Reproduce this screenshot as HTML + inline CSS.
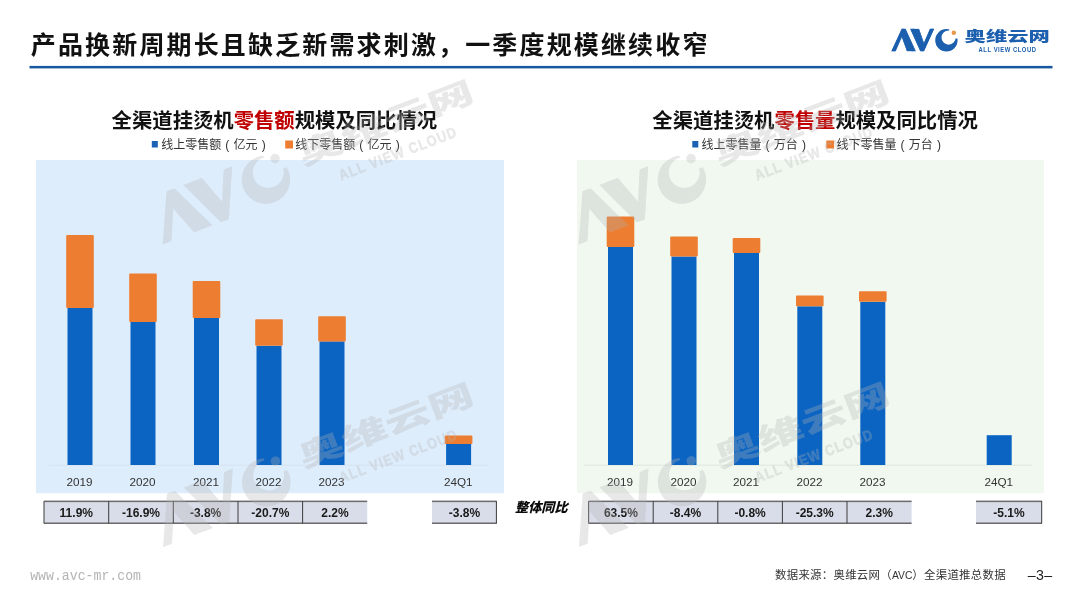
<!DOCTYPE html>
<html lang="zh-CN"><head><meta charset="utf-8"><title>全渠道挂烫机零售规模及同比情况</title>
<style>
html,body{margin:0;padding:0;background:#fff}
body{width:1080px;height:608px;overflow:hidden;position:relative;font-family:"Liberation Sans","Noto Sans CJK SC",sans-serif}
svg{position:absolute;left:0;top:0;display:block;filter:blur(0.4px)}
text{white-space:pre}
.t{font-family:"Liberation Sans","Noto Sans CJK SC",sans-serif}
.ttl{font-size:25px;font-weight:700;fill:#111;letter-spacing:2.15px}
.ct{font-size:20.35px;font-weight:700;fill:#111}
.lg{font-size:12px;fill:#333}
.yr{font-size:11.7px;fill:#333}
.pc{font-size:12px;font-weight:700;fill:#1a1a1a}
</style></head><body>
<svg width="1080" height="608" viewBox="0 0 1080 608">
<rect width="1080" height="608" fill="#fff"/>

<text class="t ttl" x="30.8" y="54">产品换新周期长且缺乏新需求刺激，一季度规模继续收窄</text>
<rect x="29.5" y="65.9" width="1023" height="2.5" fill="#17579f"/>
<g>
<clipPath id="cah"><path d="M891.4 51.7L903.7 26L916 51.7Z"/></clipPath>
<clipPath id="cvh"><path d="M910 28.6L934.2 28.6L922 54Z"/></clipPath>
<clipPath id="cch"><path d="M930 25H949.2V38.4H960V55H930Z"/></clipPath>
<text transform="translate(891.8 50.95) scale(1.135 1)" font-family="'Liberation Sans',sans-serif" font-size="31.3" fill="#1b5fae" stroke="#1b5fae" stroke-width="0.7">Λ</text>
<g clip-path="url(#cah)"><text transform="translate(888.9 50.95) scale(1.135 1)" font-weight="700" font-family="'Liberation Sans',sans-serif" font-size="31.3" fill="#1b5fae" stroke="#1b5fae" stroke-width="0.7">Λ</text></g>
<text transform="translate(910.4 50.95) scale(1.115 1)" font-family="'Liberation Sans',sans-serif" font-size="31.3" fill="#1b5fae" stroke="#1b5fae" stroke-width="0.7">V</text>
<g clip-path="url(#cvh)"><text transform="translate(913.3 50.95) scale(1.115 1)" font-weight="700" font-family="'Liberation Sans',sans-serif" font-size="31.3" fill="#1b5fae" stroke="#1b5fae" stroke-width="0.7">V</text></g>
<path fill="#1b5fae" fill-rule="evenodd" d="M946.4 29.1a11.2 11.2 0 1 0 0 22.4a11.2 11.2 0 1 0 0-22.4Z M948.6 30.5a7.1 7.1 0 1 1 0 14.2a7.1 7.1 0 1 1 0-14.2Z" clip-path="url(#cch)"/>
<circle cx="953.8" cy="32.7" r="2.2" fill="#e8964a"/>
<text transform="translate(964.6 40.5) scale(1.545 1)" font-family='"Liberation Sans","Noto Sans CJK SC",sans-serif' font-weight="900" font-size="13.8" fill="#1b5fae">奥维云网</text>
<text transform="translate(978.6 51.5) scale(0.853 1)" font-family="'Liberation Sans',sans-serif" font-weight="700" font-size="6.9" letter-spacing="0.62" fill="#1b5fae" stroke="#1b5fae" stroke-width="0">ALL VIEW CLOUD</text>
</g>
<rect x="36" y="160" width="468" height="333.2" fill="#deedfc"/>
<rect x="577" y="160" width="467" height="333.2" fill="#f0f8ef"/>
<text class="t ct" x="111.6" y="128.3">全渠道挂烫机<tspan fill="#c00000">零售额</tspan>规模及同比情况</text>
<rect x="151.8" y="141" width="6" height="6.5" fill="#1b62b5"/>
<text class="t lg" x="161.3" y="148.6">线上零售额<tspan dx="4">(</tspan><tspan dx="4.2">亿元</tspan><tspan dx="4.2">)</tspan></text>
<rect x="285.2" y="140.5" width="7.8" height="8" fill="#ed7d31"/>
<text class="t lg" x="295.2" y="148.6">线下零售额<tspan dx="4">(</tspan><tspan dx="4.2">亿元</tspan><tspan dx="4.2">)</tspan></text>
<rect x="48.8" y="464.7" width="439.5" height="1" fill="#d6e1ee"/>
<rect x="67.5" y="308.0" width="25" height="157.0" fill="#0c64c2"/>
<rect x="66.2" y="235.0" width="27.6" height="73.0" rx="1" fill="#ed7d31"/>
<rect x="130.5" y="322.0" width="25" height="143.0" fill="#0c64c2"/>
<rect x="129.2" y="273.5" width="27.6" height="48.5" rx="1" fill="#ed7d31"/>
<rect x="194.0" y="318.0" width="25" height="147.0" fill="#0c64c2"/>
<rect x="192.7" y="281.0" width="27.6" height="37.0" rx="1" fill="#ed7d31"/>
<rect x="256.5" y="345.8" width="25" height="119.2" fill="#0c64c2"/>
<rect x="255.2" y="319.3" width="27.6" height="26.5" rx="1" fill="#ed7d31"/>
<rect x="319.5" y="341.4" width="25" height="123.6" fill="#0c64c2"/>
<rect x="318.2" y="316.3" width="27.6" height="25.1" rx="1" fill="#ed7d31"/>
<rect x="446.1" y="444.0" width="25" height="21.0" fill="#0c64c2"/>
<rect x="444.8" y="435.5" width="27.6" height="8.5" rx="1" fill="#ed7d31"/>
<text class="t yr" x="79.6" y="485.5" text-anchor="middle">2019</text>
<text class="t yr" x="142.6" y="485.5" text-anchor="middle">2020</text>
<text class="t yr" x="206.1" y="485.5" text-anchor="middle">2021</text>
<text class="t yr" x="268.6" y="485.5" text-anchor="middle">2022</text>
<text class="t yr" x="331.6" y="485.5" text-anchor="middle">2023</text>
<text class="t yr" x="458.20000000000005" y="485.5" text-anchor="middle">24Q1</text>
<text class="t ct" x="652.3" y="128.3">全渠道挂烫机<tspan fill="#c00000">零售量</tspan>规模及同比情况</text>
<rect x="692.3" y="141" width="6" height="6.5" fill="#1b62b5"/>
<text class="t lg" x="701.6" y="148.6">线上零售量<tspan dx="4">(</tspan><tspan dx="4.2">万台</tspan><tspan dx="4.2">)</tspan></text>
<rect x="826.3" y="140.5" width="7.8" height="8" fill="#ed7d31"/>
<text class="t lg" x="836.6" y="148.6">线下零售量<tspan dx="4">(</tspan><tspan dx="4.2">万台</tspan><tspan dx="4.2">)</tspan></text>
<rect x="584.5" y="464.7" width="447.5" height="1" fill="#dfe8df"/>
<rect x="608.0" y="247.0" width="25" height="218.0" fill="#0c64c2"/>
<rect x="606.7" y="216.5" width="27.6" height="30.5" rx="1" fill="#ed7d31"/>
<rect x="671.5" y="256.5" width="25" height="208.5" fill="#0c64c2"/>
<rect x="670.2" y="236.5" width="27.6" height="20.0" rx="1" fill="#ed7d31"/>
<rect x="734.0" y="253.0" width="25" height="212.0" fill="#0c64c2"/>
<rect x="732.7" y="238.0" width="27.6" height="15.0" rx="1" fill="#ed7d31"/>
<rect x="797.3" y="306.3" width="25" height="158.7" fill="#0c64c2"/>
<rect x="796.0" y="295.5" width="27.6" height="10.8" rx="1" fill="#ed7d31"/>
<rect x="860.3" y="301.8" width="25" height="163.2" fill="#0c64c2"/>
<rect x="859.0" y="291.2" width="27.6" height="10.6" rx="1" fill="#ed7d31"/>
<rect x="986.7" y="435.2" width="25" height="29.8" fill="#0c64c2"/>
<text class="t yr" x="620.1" y="485.5" text-anchor="middle">2019</text>
<text class="t yr" x="683.6" y="485.5" text-anchor="middle">2020</text>
<text class="t yr" x="746.1" y="485.5" text-anchor="middle">2021</text>
<text class="t yr" x="809.4" y="485.5" text-anchor="middle">2022</text>
<text class="t yr" x="872.4" y="485.5" text-anchor="middle">2023</text>
<text class="t yr" x="998.8000000000001" y="485.5" text-anchor="middle">24Q1</text>
<rect x="44" y="501.2" width="323.25" height="22.2" fill="#d9dde9"/>
<rect x="432" y="501.2" width="64.7" height="22.2" fill="#d9dde9"/>
<rect x="44" y="500.59999999999997" width="323.2" height="1.5" fill="#6a6a6a"/>
<rect x="44" y="522.5" width="323.2" height="1.5" fill="#6a6a6a"/>
<rect x="432" y="500.59999999999997" width="64.7" height="1.5" fill="#6a6a6a"/>
<rect x="432" y="522.5" width="64.7" height="1.5" fill="#6a6a6a"/>
<rect x="43.5" y="501.2" width="1" height="22.2" fill="#3c3c3c"/>
<rect x="108.2" y="501.2" width="1" height="22.2" fill="#3c3c3c"/>
<rect x="172.8" y="501.2" width="1" height="22.2" fill="#3c3c3c"/>
<rect x="237.5" y="501.2" width="1" height="22.2" fill="#3c3c3c"/>
<rect x="302.1" y="501.2" width="1" height="22.2" fill="#3c3c3c"/>
<rect x="495.9" y="501.2" width="1" height="22.2" fill="#3c3c3c"/>
<text class="t pc" x="76.3" y="517" text-anchor="middle">11.9%</text>
<text class="t pc" x="141.0" y="517" text-anchor="middle">-16.9%</text>
<text class="t pc" x="205.6" y="517" text-anchor="middle">-3.8%</text>
<text class="t pc" x="270.3" y="517" text-anchor="middle">-20.7%</text>
<text class="t pc" x="334.9" y="517" text-anchor="middle">2.2%</text>
<text class="t pc" x="464.4" y="517" text-anchor="middle">-3.8%</text>
<rect x="588.6" y="501.2" width="323.0" height="22.2" fill="#d9dde9"/>
<rect x="976" y="501.2" width="66.0" height="22.2" fill="#d9dde9"/>
<rect x="588.6" y="500.59999999999997" width="323.0" height="1.5" fill="#6a6a6a"/>
<rect x="588.6" y="522.5" width="323.0" height="1.5" fill="#6a6a6a"/>
<rect x="976" y="500.59999999999997" width="66.0" height="1.5" fill="#6a6a6a"/>
<rect x="976" y="522.5" width="66.0" height="1.5" fill="#6a6a6a"/>
<rect x="588.1" y="501.2" width="1" height="22.2" fill="#3c3c3c"/>
<rect x="652.7" y="501.2" width="1" height="22.2" fill="#3c3c3c"/>
<rect x="717.3" y="501.2" width="1" height="22.2" fill="#3c3c3c"/>
<rect x="781.9" y="501.2" width="1" height="22.2" fill="#3c3c3c"/>
<rect x="846.5" y="501.2" width="1" height="22.2" fill="#3c3c3c"/>
<rect x="1041.2" y="501.2" width="1" height="22.2" fill="#3c3c3c"/>
<text class="t pc" x="620.9" y="517" text-anchor="middle">63.5%</text>
<text class="t pc" x="685.5" y="517" text-anchor="middle">-8.4%</text>
<text class="t pc" x="750.1" y="517" text-anchor="middle">-0.8%</text>
<text class="t pc" x="814.7" y="517" text-anchor="middle">-25.3%</text>
<text class="t pc" x="879.3" y="517" text-anchor="middle">2.3%</text>
<text class="t pc" x="1009.0" y="517" text-anchor="middle">-5.1%</text>
<text class="t" x="515" y="512.3" font-size="13.2" font-weight="900" font-style="italic" fill="#0a0a0a">整体同比</text>
<text transform="translate(30.2 580.2) scale(1 1.1)" font-family="'Liberation Mono',monospace" font-size="13.2" fill="#b4b4b4">www.avc-mr.com</text>
<text class="t" x="775" y="579" font-size="11.4" letter-spacing="0.3" fill="#333">数据来源：奥维云网（<tspan font-size="10.3" letter-spacing="0">AVC</tspan>）全渠道推总数据</text>
<text class="t" x="1027.8" y="579.6" font-size="14.2" letter-spacing="0.3" fill="#222">–3–</text>
<g opacity="0.3" transform="translate(163.6 244) rotate(-20.8) scale(2.17) translate(-891.8 -51.3)">
<clipPath id="caw0"><path d="M891.4 51.7L903.7 26L916 51.7Z"/></clipPath>
<clipPath id="cvw0"><path d="M910 28.6L934.2 28.6L922 54Z"/></clipPath>
<clipPath id="ccw0"><path d="M930 25H949.2V38.4H960V55H930Z"/></clipPath>
<text transform="translate(891.8 50.95) scale(1.135 1)" font-family="'Liberation Sans',sans-serif" font-size="31.3" fill="#b4b4b4" stroke="#b4b4b4" stroke-width="0.7">Λ</text>
<g clip-path="url(#caw0)"><text transform="translate(888.9 50.95) scale(1.135 1)" font-weight="700" font-family="'Liberation Sans',sans-serif" font-size="31.3" fill="#b4b4b4" stroke="#b4b4b4" stroke-width="0.7">Λ</text></g>
<text transform="translate(910.4 50.95) scale(1.115 1)" font-family="'Liberation Sans',sans-serif" font-size="31.3" fill="#b4b4b4" stroke="#b4b4b4" stroke-width="0.7">V</text>
<g clip-path="url(#cvw0)"><text transform="translate(913.3 50.95) scale(1.115 1)" font-weight="700" font-family="'Liberation Sans',sans-serif" font-size="31.3" fill="#b4b4b4" stroke="#b4b4b4" stroke-width="0.7">V</text></g>
<path fill="#b4b4b4" fill-rule="evenodd" d="M946.4 29.1a11.2 11.2 0 1 0 0 22.4a11.2 11.2 0 1 0 0-22.4Z M948.6 30.5a7.1 7.1 0 1 1 0 14.2a7.1 7.1 0 1 1 0-14.2Z" clip-path="url(#ccw0)"/>
<circle cx="953.8" cy="32.7" r="2.2" fill="#b4b4b4"/>
<text transform="translate(964.6 40.5) scale(1.545 1)" font-family='"Liberation Sans","Noto Sans CJK SC",sans-serif' font-weight="900" font-size="13.8" fill="#b4b4b4">奥维云网</text>
<text transform="translate(978.6 53.0) scale(0.853 1)" font-family="'Liberation Sans',sans-serif" font-weight="700" font-size="6.9" letter-spacing="0.62" fill="#b4b4b4" stroke="#b4b4b4" stroke-width="0.25">ALL VIEW CLOUD</text>
</g>
<g opacity="0.3" transform="translate(579.6 244) rotate(-20.8) scale(2.17) translate(-891.8 -51.3)">
<clipPath id="caw1"><path d="M891.4 51.7L903.7 26L916 51.7Z"/></clipPath>
<clipPath id="cvw1"><path d="M910 28.6L934.2 28.6L922 54Z"/></clipPath>
<clipPath id="ccw1"><path d="M930 25H949.2V38.4H960V55H930Z"/></clipPath>
<text transform="translate(891.8 50.95) scale(1.135 1)" font-family="'Liberation Sans',sans-serif" font-size="31.3" fill="#b4b4b4" stroke="#b4b4b4" stroke-width="0.7">Λ</text>
<g clip-path="url(#caw1)"><text transform="translate(888.9 50.95) scale(1.135 1)" font-weight="700" font-family="'Liberation Sans',sans-serif" font-size="31.3" fill="#b4b4b4" stroke="#b4b4b4" stroke-width="0.7">Λ</text></g>
<text transform="translate(910.4 50.95) scale(1.115 1)" font-family="'Liberation Sans',sans-serif" font-size="31.3" fill="#b4b4b4" stroke="#b4b4b4" stroke-width="0.7">V</text>
<g clip-path="url(#cvw1)"><text transform="translate(913.3 50.95) scale(1.115 1)" font-weight="700" font-family="'Liberation Sans',sans-serif" font-size="31.3" fill="#b4b4b4" stroke="#b4b4b4" stroke-width="0.7">V</text></g>
<path fill="#b4b4b4" fill-rule="evenodd" d="M946.4 29.1a11.2 11.2 0 1 0 0 22.4a11.2 11.2 0 1 0 0-22.4Z M948.6 30.5a7.1 7.1 0 1 1 0 14.2a7.1 7.1 0 1 1 0-14.2Z" clip-path="url(#ccw1)"/>
<circle cx="953.8" cy="32.7" r="2.2" fill="#b4b4b4"/>
<text transform="translate(964.6 40.5) scale(1.545 1)" font-family='"Liberation Sans","Noto Sans CJK SC",sans-serif' font-weight="900" font-size="13.8" fill="#b4b4b4">奥维云网</text>
<text transform="translate(978.6 53.0) scale(0.853 1)" font-family="'Liberation Sans',sans-serif" font-weight="700" font-size="6.9" letter-spacing="0.62" fill="#b4b4b4" stroke="#b4b4b4" stroke-width="0.25">ALL VIEW CLOUD</text>
</g>
<g opacity="0.3" transform="translate(164 546.6) rotate(-20.8) scale(2.17) translate(-891.8 -51.3)">
<clipPath id="caw2"><path d="M891.4 51.7L903.7 26L916 51.7Z"/></clipPath>
<clipPath id="cvw2"><path d="M910 28.6L934.2 28.6L922 54Z"/></clipPath>
<clipPath id="ccw2"><path d="M930 25H949.2V38.4H960V55H930Z"/></clipPath>
<text transform="translate(891.8 50.95) scale(1.135 1)" font-family="'Liberation Sans',sans-serif" font-size="31.3" fill="#b4b4b4" stroke="#b4b4b4" stroke-width="0.7">Λ</text>
<g clip-path="url(#caw2)"><text transform="translate(888.9 50.95) scale(1.135 1)" font-weight="700" font-family="'Liberation Sans',sans-serif" font-size="31.3" fill="#b4b4b4" stroke="#b4b4b4" stroke-width="0.7">Λ</text></g>
<text transform="translate(910.4 50.95) scale(1.115 1)" font-family="'Liberation Sans',sans-serif" font-size="31.3" fill="#b4b4b4" stroke="#b4b4b4" stroke-width="0.7">V</text>
<g clip-path="url(#cvw2)"><text transform="translate(913.3 50.95) scale(1.115 1)" font-weight="700" font-family="'Liberation Sans',sans-serif" font-size="31.3" fill="#b4b4b4" stroke="#b4b4b4" stroke-width="0.7">V</text></g>
<path fill="#b4b4b4" fill-rule="evenodd" d="M946.4 29.1a11.2 11.2 0 1 0 0 22.4a11.2 11.2 0 1 0 0-22.4Z M948.6 30.5a7.1 7.1 0 1 1 0 14.2a7.1 7.1 0 1 1 0-14.2Z" clip-path="url(#ccw2)"/>
<circle cx="953.8" cy="32.7" r="2.2" fill="#b4b4b4"/>
<text transform="translate(964.6 40.5) scale(1.545 1)" font-family='"Liberation Sans","Noto Sans CJK SC",sans-serif' font-weight="900" font-size="13.8" fill="#b4b4b4">奥维云网</text>
<text transform="translate(978.6 53.0) scale(0.853 1)" font-family="'Liberation Sans',sans-serif" font-weight="700" font-size="6.9" letter-spacing="0.62" fill="#b4b4b4" stroke="#b4b4b4" stroke-width="0.25">ALL VIEW CLOUD</text>
</g>
<g opacity="0.3" transform="translate(579.8 546.4) rotate(-20.8) scale(2.17) translate(-891.8 -51.3)">
<clipPath id="caw3"><path d="M891.4 51.7L903.7 26L916 51.7Z"/></clipPath>
<clipPath id="cvw3"><path d="M910 28.6L934.2 28.6L922 54Z"/></clipPath>
<clipPath id="ccw3"><path d="M930 25H949.2V38.4H960V55H930Z"/></clipPath>
<text transform="translate(891.8 50.95) scale(1.135 1)" font-family="'Liberation Sans',sans-serif" font-size="31.3" fill="#b4b4b4" stroke="#b4b4b4" stroke-width="0.7">Λ</text>
<g clip-path="url(#caw3)"><text transform="translate(888.9 50.95) scale(1.135 1)" font-weight="700" font-family="'Liberation Sans',sans-serif" font-size="31.3" fill="#b4b4b4" stroke="#b4b4b4" stroke-width="0.7">Λ</text></g>
<text transform="translate(910.4 50.95) scale(1.115 1)" font-family="'Liberation Sans',sans-serif" font-size="31.3" fill="#b4b4b4" stroke="#b4b4b4" stroke-width="0.7">V</text>
<g clip-path="url(#cvw3)"><text transform="translate(913.3 50.95) scale(1.115 1)" font-weight="700" font-family="'Liberation Sans',sans-serif" font-size="31.3" fill="#b4b4b4" stroke="#b4b4b4" stroke-width="0.7">V</text></g>
<path fill="#b4b4b4" fill-rule="evenodd" d="M946.4 29.1a11.2 11.2 0 1 0 0 22.4a11.2 11.2 0 1 0 0-22.4Z M948.6 30.5a7.1 7.1 0 1 1 0 14.2a7.1 7.1 0 1 1 0-14.2Z" clip-path="url(#ccw3)"/>
<circle cx="953.8" cy="32.7" r="2.2" fill="#b4b4b4"/>
<text transform="translate(964.6 40.5) scale(1.545 1)" font-family='"Liberation Sans","Noto Sans CJK SC",sans-serif' font-weight="900" font-size="13.8" fill="#b4b4b4">奥维云网</text>
<text transform="translate(978.6 53.0) scale(0.853 1)" font-family="'Liberation Sans',sans-serif" font-weight="700" font-size="6.9" letter-spacing="0.62" fill="#b4b4b4" stroke="#b4b4b4" stroke-width="0.25">ALL VIEW CLOUD</text>
</g>
</svg></body></html>
